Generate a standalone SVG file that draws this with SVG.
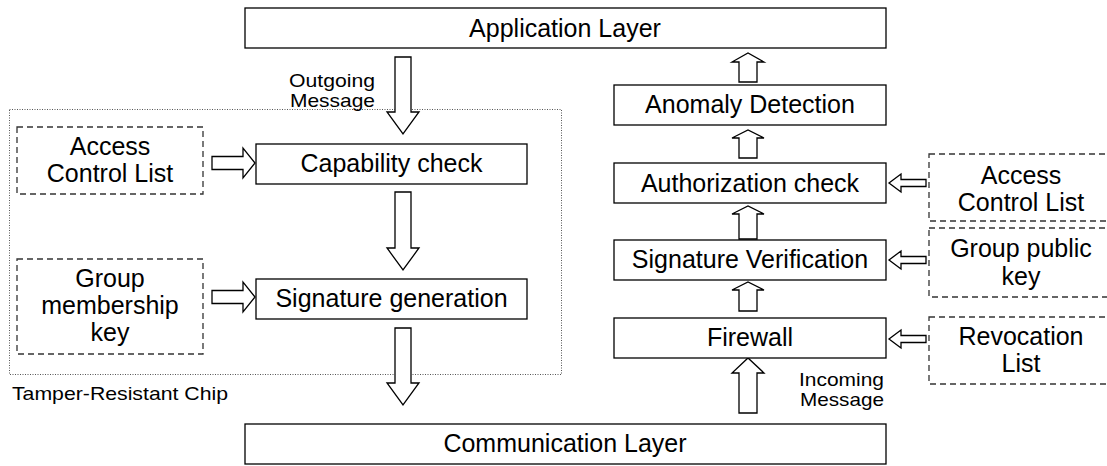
<svg xmlns="http://www.w3.org/2000/svg" width="1107" height="466" viewBox="0 0 1107 466">
<style>
.box{fill:#fff;stroke:#000;stroke-width:1.3}
.dbox{fill:#fff;stroke:#333;stroke-width:1.3;stroke-dasharray:6 4}
.chip{fill:none;stroke:#555;stroke-width:1;stroke-dasharray:1 1.5}
.arr{fill:#fff;stroke:#000;stroke-width:1.3;stroke-linejoin:miter}
.t{font-family:"Liberation Sans",Arial,sans-serif;font-size:25px;fill:#000;text-anchor:middle}
.s{font-family:"Liberation Sans",Arial,sans-serif;font-size:19px;fill:#000}
</style>
<rect width="1107" height="466" fill="#fff"/>
<g id="chip">
<rect class="chip" x="9.5" y="109.5" width="552" height="265"/>
<text class="s" x="12" y="400" textLength="216" lengthAdjust="spacingAndGlyphs">Tamper-Resistant Chip</text>
</g>
<g id="connectors">
<path class="arr" d="M395,57 H411 V112 H419 L403,134 L387,112 H395 Z"/>
<path class="arr" d="M395,192 H411 V248 H419 L403,270 L387,248 H395 Z"/>
<path class="arr" d="M395,328 H411 V383 H419 L403,405 L387,383 H395 Z"/>
<path class="arr" d="M212,156.5 H243 V148 L255,163 L243,178 V169.5 H212 Z"/>
<path class="arr" d="M212,290.5 H243 V282 L255,297 L243,312 V303.5 H212 Z"/>
<path class="arr" d="M739,82 V62 H732 L748,53 L764,62 H757 V82 Z"/>
<path class="arr" d="M739,158 V138 H732 L748,130 L764,138 H757 V158 Z"/>
<path class="arr" d="M739,239 V214 H732 L748,206 L764,214 H757 V239 Z"/>
<path class="arr" d="M739,311 V290 H732 L748,282 L764,290 H757 V311 Z"/>
<path class="arr" d="M739,413 V373 H732 L748,358 L764,373 H757 V413 Z"/>
<path class="arr" d="M889,183 L901,174 V179.5 H926 V186.5 H901 V192 Z"/>
<path class="arr" d="M889,260 L901,251 V256.5 H926 V263.5 H901 V269 Z"/>
<path class="arr" d="M889,339 L901,330 V335.5 H926 V342.5 H901 V348 Z"/>
<text class="s" x="289" y="87" textLength="86" lengthAdjust="spacingAndGlyphs">Outgoing</text>
<text class="s" x="290" y="106.5" textLength="85" lengthAdjust="spacingAndGlyphs">Message</text>
<text class="s" x="799" y="386" textLength="85" lengthAdjust="spacingAndGlyphs">Incoming</text>
<text class="s" x="800" y="405.5" textLength="84" lengthAdjust="spacingAndGlyphs">Message</text>
</g>
<g id="app">
<rect class="box" x="245" y="8" width="641" height="40"/>
<text class="t" x="565" y="37">Application Layer</text>
</g>
<g id="comm">
<rect class="box" x="245" y="424" width="641" height="40"/>
<text class="t" x="565" y="452">Communication Layer</text>
</g>
<g id="acl-left">
<rect class="dbox" x="17" y="127" width="186" height="67"/>
<text class="t" x="110" y="155">Access</text>
<text class="t" x="110" y="182">Control List</text>
</g>
<g id="capability">
<rect class="box" x="256" y="144" width="271" height="40"/>
<text class="t" x="391.5" y="172">Capability check</text>
</g>
<g id="group-key">
<rect class="dbox" x="17" y="259" width="186" height="95"/>
<text class="t" x="110" y="287">Group</text>
<text class="t" x="110" y="314">membership</text>
<text class="t" x="110" y="341">key</text>
</g>
<g id="siggen">
<rect class="box" x="256" y="279" width="271" height="40"/>
<text class="t" x="391.5" y="307">Signature generation</text>
</g>
<g id="anomaly">
<rect class="box" x="614" y="85" width="272" height="40"/>
<text class="t" x="750" y="113">Anomaly Detection</text>
</g>
<g id="authz">
<rect class="box" x="614" y="163" width="272" height="40"/>
<text class="t" x="750" y="192">Authorization check</text>
</g>
<g id="sigver">
<rect class="box" x="614" y="240" width="272" height="40"/>
<text class="t" x="750" y="268">Signature Verification</text>
</g>
<g id="firewall">
<rect class="box" x="614" y="318" width="272" height="40"/>
<text class="t" x="750" y="346">Firewall</text>
</g>
<g id="acl-right">
<rect class="dbox" x="929" y="154" width="190" height="67"/>
<text class="t" x="1021" y="184">Access</text>
<text class="t" x="1021" y="211">Control List</text>
</g>
<g id="group-public">
<rect class="dbox" x="929" y="228" width="190" height="69"/>
<text class="t" x="1021" y="257">Group public</text>
<text class="t" x="1021" y="285">key</text>
</g>
<g id="revocation">
<rect class="dbox" x="929" y="317" width="190" height="67"/>
<text class="t" x="1021" y="345">Revocation</text>
<text class="t" x="1021" y="372">List</text>
</g>
</svg>
